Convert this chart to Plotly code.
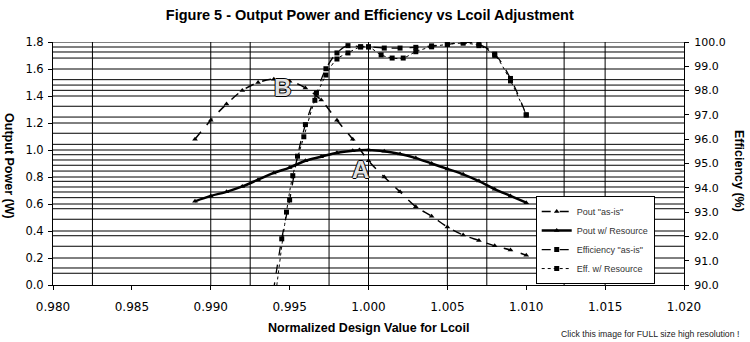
import plotly.graph_objects as go

# ---------------- data ----------------
x_pout = [0.989, 0.990, 0.991, 0.992, 0.993, 0.994, 0.995, 0.996, 0.997, 0.998, 0.999,
          1.000, 1.001, 1.002, 1.003, 1.004, 1.005, 1.006, 1.007, 1.008, 1.009, 1.010]
pout_asis = [1.08, 1.22, 1.34, 1.44, 1.50, 1.525, 1.51, 1.46, 1.37, 1.22, 1.08,
             0.92, 0.80, 0.69, 0.58, 0.51, 0.43, 0.37, 0.33, 0.29, 0.26, 0.22]
pout_res = [0.62, 0.66, 0.69, 0.73, 0.78, 0.83, 0.87, 0.92, 0.95, 0.98, 0.995,
            1.00, 0.99, 0.97, 0.94, 0.90, 0.86, 0.82, 0.77, 0.71, 0.66, 0.61]

x_eff_asis = [0.9938, 0.9945, 0.9950, 0.9955, 0.9960, 0.9967, 0.9973, 0.9980, 0.9987, 0.9995,
              1.0000, 1.0010, 1.0020, 1.0030, 1.0040, 1.0050, 1.0060, 1.0070, 1.0080, 1.0090, 1.0100]
eff_asis = [89.0, 91.9, 93.5, 95.3, 96.6, 97.9, 98.9, 99.55, 99.85, 99.8,
            99.8, 99.75, 99.75, 99.78, 99.84, 99.9, 100.0, 99.9, 99.5, 98.5, 97.0]

x_eff_res = [0.9940, 0.9948, 0.9952, 0.9959, 0.9966, 0.9973, 0.9980, 0.9987, 0.9995, 1.0000,
             1.0008, 1.0015, 1.0022, 1.0030, 1.0040, 1.0050, 1.0060, 1.0070, 1.0080, 1.0090, 1.0100]
eff_res = [89.0, 93.0, 94.5, 96.1, 97.6, 98.64, 99.3, 99.55, 99.8, 99.8,
           99.47, 99.34, 99.34, 99.6, 99.8, 99.9, 99.95, 99.85, 99.45, 98.4, 97.0]

series_names = ['Pout "as-is"', 'Pout w/ Resource', 'Efficiency "as-is"', 'Eff. w/ Resource']

# gridline positions (as drawn in the original chart)
vgrid = [0.9825, 0.990, 0.9925, 0.9975, 1.000, 1.005, 1.0075, 1.0124, 1.015]
hgrid = [1.8, 1.763, 1.726, 1.681, 1.6, 1.521, 1.481, 1.442, 1.4, 1.324, 1.244, 1.2,
         1.124, 1.042, 1.0, 0.965, 0.926, 0.887, 0.844, 0.8, 0.768, 0.726, 0.689, 0.647,
         0.6, 0.565, 0.487, 0.4, 0.365, 0.287, 0.2, 0.126, 0.087]

# label annotations A / B
labels = ["B", "A"]
label_x = [0.99456, 0.99949]
label_y = [1.46, 0.852]

FONT = "Liberation Sans, Arial, sans-serif"
TFONT = "DejaVu Sans, sans-serif"

fig = go.Figure()

fig.add_trace(go.Scatter(
    x=x_pout, y=pout_asis, name=series_names[0], mode="lines+markers",
    line=dict(color="black", width=1.5, dash="dash", shape="spline"),
    marker=dict(symbol="triangle-up", size=5, color="black")))
fig.add_trace(go.Scatter(
    x=x_pout, y=pout_res, name=series_names[1], mode="lines+markers",
    line=dict(color="black", width=2.5, shape="spline"),
    marker=dict(symbol="triangle-up", size=5, color="black")))
fig.add_trace(go.Scatter(
    x=x_eff_asis, y=eff_asis, name=series_names[2], mode="lines+markers", yaxis="y2",
    line=dict(color="black", width=1.3, dash="dash", shape="spline"),
    marker=dict(symbol="square", size=5, color="black")))
fig.add_trace(go.Scatter(
    x=x_eff_res, y=eff_res, name=series_names[3], mode="lines+markers", yaxis="y2",
    line=dict(color="black", width=1, dash="dot", shape="spline"),
    marker=dict(symbol="square", size=5, color="black")))

shapes = []
for v in vgrid:
    shapes.append(dict(type="line", xref="x", yref="paper", x0=v, x1=v, y0=0, y1=1,
                       line=dict(color="black", width=1), layer="below"))
for h in hgrid:
    shapes.append(dict(type="line", xref="paper", yref="y", x0=0, x1=1, y0=h, y1=h,
                       line=dict(color="black", width=1), layer="below"))

annotations = []
for t, lx, ly in zip(labels, label_x, label_y):
    annotations.append(dict(x=lx, y=ly, xref="x", yref="y", text="<b>%s</b>" % t,
                            showarrow=False,
                            font=dict(family=FONT, size=24, color="#e0e0e0",
                                      shadow="1px 0 0 #000, -1px 0 0 #000, 0 1px 0 #000, 0 -1px 0 #000")))
annotations += [
    dict(text="<b>Output Power (W)</b>", xref="paper", yref="paper", x=-0.07, y=0.49,
         textangle=90, showarrow=False, font=dict(family=FONT, size=12.5, color="black"),
         xanchor="center", yanchor="middle"),
    dict(text="<b>Efficiency (%)</b>", xref="paper", yref="paper", x=1.087, y=0.47,
         textangle=90, showarrow=False, font=dict(family=FONT, size=12.5, color="black"),
         xanchor="center", yanchor="middle"),
    dict(text="<b>Normalized Design Value for Lcoil</b>", xref="paper", yref="paper",
         x=0.5, y=-0.178, showarrow=False, font=dict(family=FONT, size=12.5, color="black"),
         xanchor="center", yanchor="middle"),
    dict(text="Click this image for FULL size high resolution !", xref="paper", yref="paper",
         x=1.09, y=-0.2, showarrow=False, font=dict(family=FONT, size=8.7, color="#222"),
         xanchor="right", yanchor="middle"),
]

fig.update_layout(
    width=750, height=342,
    margin=dict(l=53, r=66, t=42, b=57),
    paper_bgcolor="white", plot_bgcolor="white",
    title=dict(text="<b>Figure 5 - Output Power and Efficiency vs Lcoil Adjustment</b>",
               x=0.493, xanchor="center", y=0.955, yanchor="middle",
               font=dict(family=FONT, size=14.5, color="black")),
    font=dict(family=FONT, size=11, color="black"),
    xaxis=dict(range=[0.98, 1.02], dtick=0.005, tick0=0.98, tickformat=".3f",
               showgrid=False, zeroline=False, showline=True, linecolor="black", linewidth=1,
               ticks="outside", ticklen=4, tickcolor="black", ticklabelstandoff=7,
               tickfont=dict(family=TFONT, size=12, color="black")),
    yaxis=dict(range=[0, 1.8], dtick=0.2, tickformat=".1f", showgrid=False, zeroline=False,
               showline=True, linecolor="black", linewidth=1, ticks="outside", ticklen=4,
               tickcolor="black", ticklabelstandoff=2,
               tickfont=dict(family=TFONT, size=11.5, color="black")),
    yaxis2=dict(range=[90, 100], dtick=1, tickformat=".1f", overlaying="y", side="right",
                showgrid=False, zeroline=False, showline=True, linecolor="black", linewidth=1,
                ticks="outside", ticklen=4, tickcolor="black", ticklabelstandoff=3,
                tickfont=dict(family=TFONT, size=11, color="black")),
    legend=dict(x=0.765, y=0.366, xanchor="left", yanchor="top", bgcolor="white",
                bordercolor="black", borderwidth=1, font=dict(family=FONT, size=9, color="#333"),
                tracegroupgap=0, itemwidth=30),
    shapes=shapes,
    annotations=annotations,
    showlegend=True,
)

fig.write_html("out.html")
